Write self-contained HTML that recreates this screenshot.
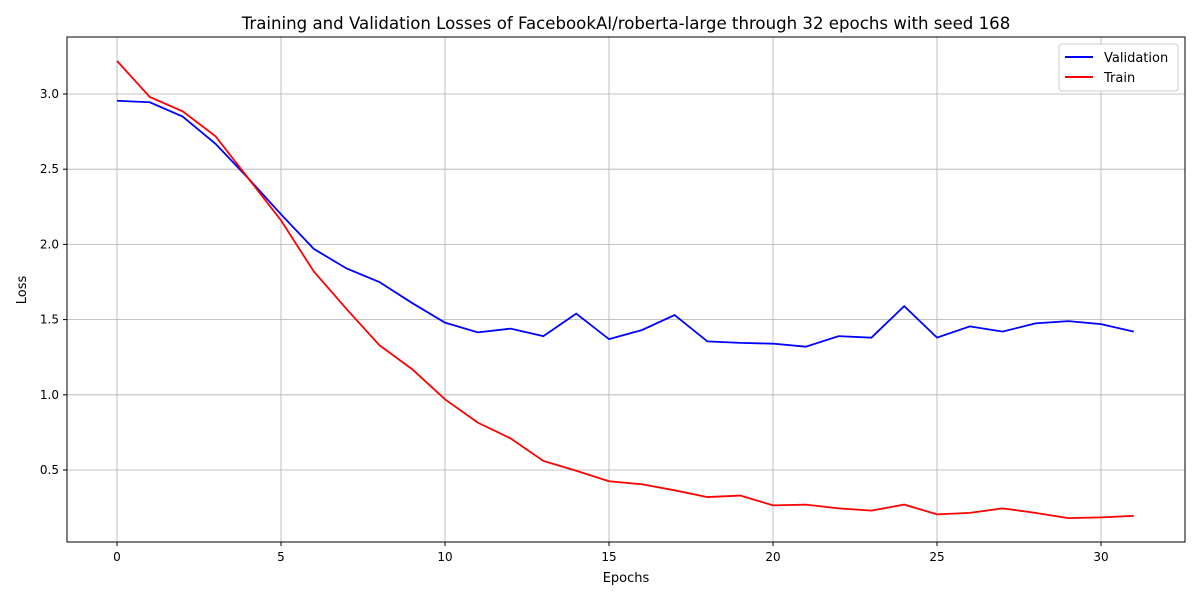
<!DOCTYPE html>
<html><head><meta charset="utf-8"><style>
body{margin:0;background:#fff;}
svg text{font-family:"DejaVu Sans","Liberation Sans",sans-serif;fill:#000;}
</style></head><body>
<svg id="chart" width="1200" height="600" xmlns="http://www.w3.org/2000/svg">
<rect width="1200" height="600" fill="#fff"/>
<g id="grid"></g>
<g id="series"></g>
<rect x="67" y="37" width="1118" height="505" fill="none" stroke="#000" stroke-width="1"/>
<g id="ticks"></g>
<text x="626" y="29" font-size="16.6" text-anchor="middle">Training and Validation Losses of FacebookAI/roberta-large through 32 epochs with seed 168</text>
<text x="626" y="582" font-size="13" text-anchor="middle">Epochs</text>
<text x="26" y="290" font-size="13" text-anchor="middle" transform="rotate(-90 26 290)">Loss</text>
<g>
<rect x="1059" y="44" width="119" height="47" fill="#fff" stroke="#ccc" rx="3"/>
<line x1="1065" y1="57" x2="1093" y2="57" stroke="#0000ff" stroke-width="2"/>
<text x="1104" y="62" font-size="13">Validation</text>
<line x1="1065" y1="77" x2="1093" y2="77" stroke="#ff0000" stroke-width="2"/>
<text x="1104" y="82" font-size="13">Train</text>
</g>
</svg>
<script>
const epochs=[...Array(32).keys()];
const validation=[2.955,2.945,2.85,2.67,2.44,2.2,1.97,1.84,1.75,1.61,1.48,1.415,1.44,1.39,1.54,1.37,1.43,1.53,1.355,1.345,1.34,1.32,1.39,1.38,1.59,1.38,1.455,1.42,1.475,1.49,1.47,1.42];
const train=[3.22,2.98,2.885,2.72,2.44,2.16,1.82,1.57,1.33,1.17,0.97,0.815,0.71,0.56,0.495,0.425,0.405,0.365,0.32,0.33,0.265,0.27,0.245,0.23,0.27,0.205,0.215,0.245,0.215,0.18,0.185,0.195];
const xTicks=[0,5,10,15,20,25,30];
const yTicks=[0.5,1.0,1.5,2.0,2.5,3.0];
const NS="http://www.w3.org/2000/svg";
const xs=v=>117+v*32.8;
const ys=v=>94+(3.0-v)*150.4;
const grid=document.getElementById('grid'),ticks=document.getElementById('ticks'),series=document.getElementById('series');
function mk(t,a,p){const e=document.createElementNS(NS,t);for(const k in a)e.setAttribute(k,a[k]);p.appendChild(e);return e;}
xTicks.forEach(t=>{
 const g=mk('line',{x1:xs(t),x2:xs(t),y1:37,y2:542,stroke:'#b0b0b0','stroke-width':0.8},grid);
 
 
 mk('line',{x1:xs(t),x2:xs(t),y1:542,y2:546,stroke:'#000'},ticks);
 const l=mk('text',{x:xs(t),y:561,'font-size':12,'text-anchor':'middle'},ticks);
 l.textContent=t;
 
 
});
yTicks.forEach(t=>{
 const g=mk('line',{x1:67,x2:1185,y1:ys(t),y2:ys(t),stroke:'#b0b0b0','stroke-width':0.8},grid);
 
 
 mk('line',{x1:63,x2:67,y1:ys(t),y2:ys(t),stroke:'#000'},ticks);
 const l=mk('text',{x:59,y:ys(t)+4,'font-size':12,'text-anchor':'end'},ticks);
 l.textContent=t.toFixed(1);
 
 
});
function line(vals,color,name){
 const p=mk('polyline',{points:vals.map((v,i)=>xs(epochs[i])+','+ys(v)).join(' '),fill:'none',stroke:color,'stroke-width':1.8},series);
 
 
}
line(validation,'#0000ff','validation-line');
line(train,'#ff0000','train-line');
</script>
</body></html>
